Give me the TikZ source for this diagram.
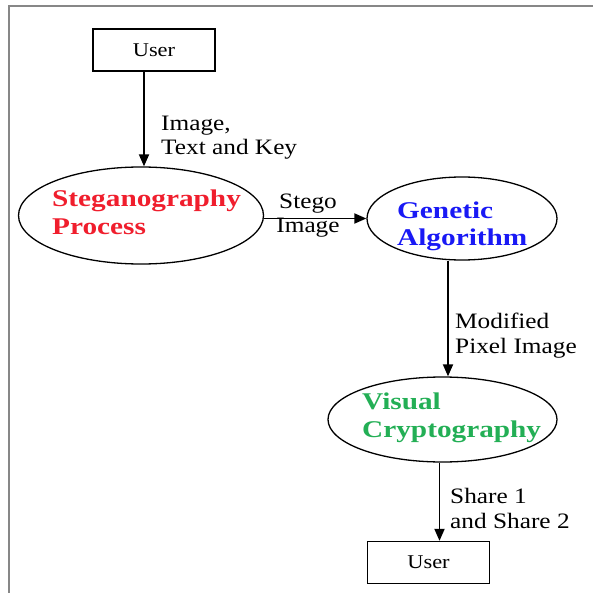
\documentclass[tikz,border=0pt]{standalone}
\usepackage{fontspec}
\setmainfont{Liberation Serif}[FakeStretch=1.15]
\newfontfamily\boldfam{Liberation Serif}[FakeStretch=1.22]
\usetikzlibrary{arrows.meta,shapes.geometric}
\definecolor{stegred}{RGB}{240,30,45}
\definecolor{genblue}{RGB}{25,25,245}
\definecolor{visgreen}{RGB}{35,175,85}
\definecolor{framegray}{RGB}{135,135,135}
\tikzset{
  userbox/.style={draw, line width=1.3pt, minimum width=122pt, minimum height=42pt, inner sep=0pt,
    font=\fontsize{19.5}{24}\selectfont},
  procell/.style={draw, ellipse, line width=1.3pt, inner sep=0pt},
  proclab/.style={inner sep=0pt, align=left, font=\boldfam\bfseries\fontsize{24}{28}\selectfont},
  edgelab/.style={inner sep=0pt, align=left, font=\fontsize{22}{24.5}\selectfont},
  arr/.style={line width=1.8pt, -{Triangle[length=12pt,width=10pt]}}
}
\begin{document}
\begin{tikzpicture}[x=1pt,y=-1pt]
\useasboundingbox[fill=white] (0,0) rectangle (593,593);
\draw[framegray, line width=2pt] (8.5,593) -- (8.5,6) -- (593,6);
% nodes
\node[userbox] (u1) at (154,50) {User};
\node[procell, minimum width=245pt, minimum height=97pt] (steg) at (141,215.5) {};
\node[procell, minimum width=190pt, minimum height=83pt] (gen) at (462,218.5) {};
\node[procell, minimum width=229pt, minimum height=85pt] (vis) at (442.5,419.5) {};
\node[userbox] (u2) at (428.5,562.5) {User};
% process texts
\node[proclab, text=stegred, anchor=base west] (stegt) at (52,235) {Steganography\\Process};
\node[proclab, text=genblue, anchor=base west] (gent) at (397,246) {Genetic\\Algorithm};
\node[proclab, text=visgreen, anchor=base west] (vist) at (362,437) {Visual\\Cryptography};
% connectors
\draw[arr] ([xshift=-10pt]u1.south) -- ([xshift=-10pt]u1.south |- steg.north);
\draw[arr] ([yshift=-3pt]steg.east) -- ([yshift=-3pt]steg.east -| gen.west);
\draw[arr] ([xshift=-14pt]gen.south) -- ([xshift=-14pt]gen.south |- vis.north);
\draw[arr] ([xshift=-3pt]vis.south) -- ([xshift=-3pt]vis.south |- u2.north);
% edge labels
\node[edgelab, anchor=base west] (l1) at (161,155) {Image,\\Text and Key};
\node[edgelab, align=center, anchor=base] (l2) at (308,233) {Stego\\Image};
\node[edgelab, anchor=base west] (l3) at (455,353) {Modified\\Pixel Image};
\node[edgelab, anchor=base west] (l4) at (450,528) {Share 1\\and Share 2};
\end{tikzpicture}
\end{document}
